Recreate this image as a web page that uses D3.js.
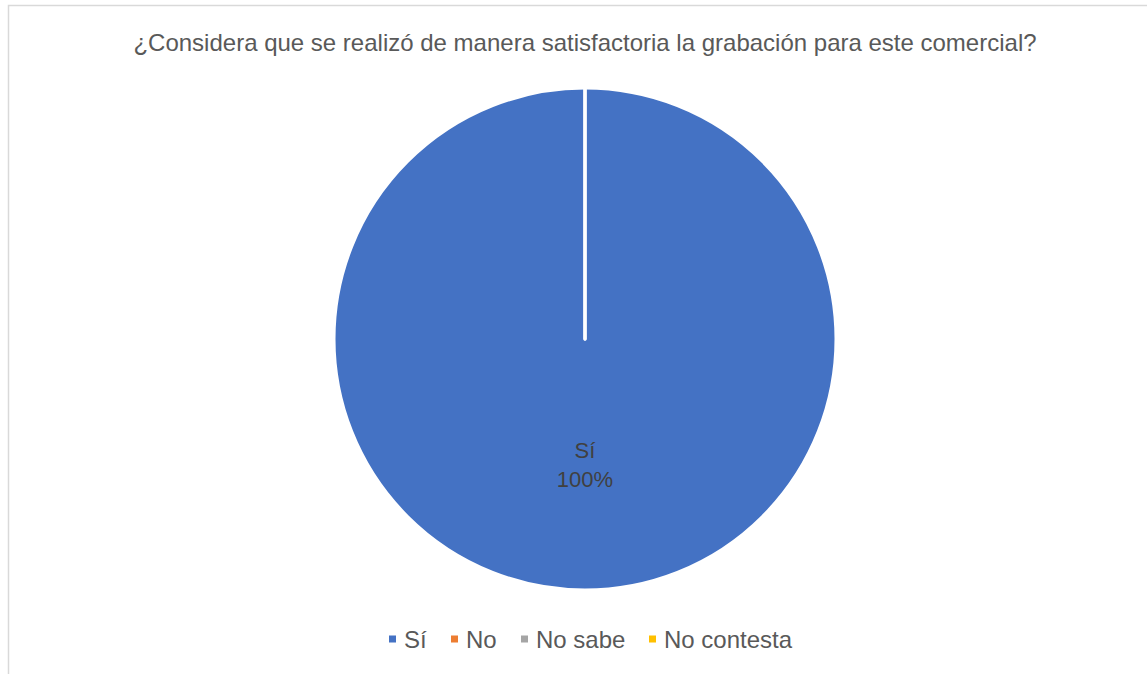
<!DOCTYPE html>
<html>
<head>
<meta charset="utf-8">
<script src="https://cdn.jsdelivr.net/npm/d3@7"></script>
<style>
  html, body { margin: 0; padding: 0; background: #fff; }
  svg { display: block; font-family: "Liberation Sans", Arial, sans-serif; }
</style>
</head>
<body>
<svg id="chart" width="1147" height="674"></svg>
<script>
// Survey answers and their share of responses
const categories = ["Sí", "No", "No sabe", "No contesta"];
const values = [100, 0, 0, 0];
const colors = ["#4472C4", "#ED7D31", "#A5A5A5", "#FFC000"];
const titleText = "¿Considera que se realizó de manera satisfactoria la grabación para este comercial?";

const svg = d3.select("#chart");
const W = 1147, H = 674;

// chart frame (light border on left and top)
svg.append("path")
  .attr("d", `M8.5,${H} L8.5,5.5 L${W},5.5`)
  .attr("fill", "none")
  .attr("stroke", "#D9D9D9")
  .attr("stroke-width", 1.5);

// title
svg.append("text")
  .attr("x", 585)
  .attr("y", 51)
  .attr("text-anchor", "middle")
  .attr("font-size", 24)
  .attr("fill", "#595959")
  .text(titleText);

const cx = 585, cy = 339, R = 251;
const color = d3.scaleOrdinal().domain(categories).range(colors);
const total = d3.sum(values);

const pie = d3.pie().sort(null).value(d => d.value);
const arcs = pie(categories.map((c, i) => ({ cat: c, value: values[i] })));
const arc = d3.arc().innerRadius(0).outerRadius(R);

const g = svg.append("g").attr("transform", `translate(${cx},${cy})`);
g.selectAll("path.slice")
  .data(arcs)
  .join("path")
  .attr("class", "slice")
  .attr("d", arc)
  .attr("fill", d => color(d.data.cat))
  .attr("stroke", "#fff")
  .attr("stroke-width", 3)
  .attr("stroke-linejoin", "round");

// data labels on non-empty slices, placed about half way out
const labelArc = d3.arc().innerRadius(127).outerRadius(127);
const lbl = g.selectAll("g.lbl")
  .data(arcs.filter(d => d.data.value > 0))
  .join("g")
  .attr("class", "lbl")
  .attr("transform", d => {
    const [x, y] = labelArc.centroid(d);
    return `translate(${x},${y})`;
  });
lbl.append("text")
  .attr("text-anchor", "middle")
  .attr("y", -8)
  .attr("font-size", 22)
  .attr("fill", "#404040")
  .text(d => d.data.cat);
lbl.append("text")
  .attr("text-anchor", "middle")
  .attr("y", 21)
  .attr("font-size", 22)
  .attr("fill", "#404040")
  .text(d => Math.round(d.data.value / total * 100) + "%");

// legend
const legend = svg.append("g").attr("transform", "translate(0,639)");
const legendX = [389, 451, 521, 649];
const items = legend.selectAll("g.item")
  .data(categories)
  .join("g")
  .attr("class", "item")
  .attr("transform", (d, i) => `translate(${legendX[i]},0)`);
items.append("rect")
  .attr("x", 0).attr("y", -3.5)
  .attr("width", 7).attr("height", 7)
  .attr("fill", d => color(d));
items.append("text")
  .attr("x", 15)
  .attr("y", 9)
  .attr("font-size", 24)
  .attr("fill", "#595959")
  .text(d => d);
</script>
</body>
</html>
